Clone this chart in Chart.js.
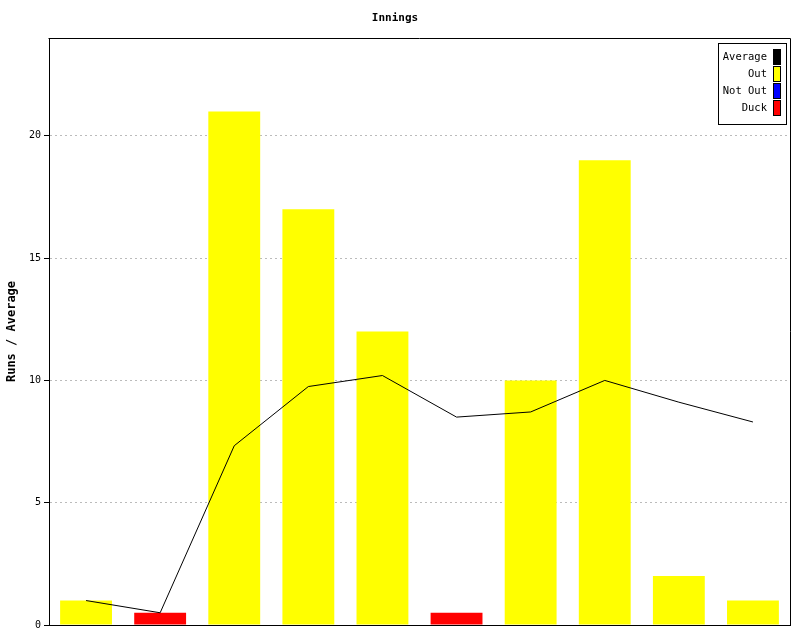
<!DOCTYPE html>
<html>
<head>
<meta charset="utf-8">
<script src="https://cdn.jsdelivr.net/npm/chart.js@4/dist/chart.umd.min.js"></script>
<style>
html,body{margin:0;padding:0;background:#fff;}
#wrap{width:800px;height:640px;}
</style>
</head>
<body>
<div id="wrap"><canvas id="c" width="800" height="640"></canvas></div>
<script>
const categories = ['1','2','3','4','5','6','7','8','9','10'];
const outRuns = [1, null, 21, 17, 12, null, 10, 19, 2, 1];
const notOutRuns = [null, null, null, null, null, null, null, null, null, null];
const duckRuns = [null, 0.5, null, null, null, 0.5, null, null, null, null];
const average = [1, 0.5, 7.33, 9.75, 10.2, 8.5, 8.71, 10, 9.11, 8.3];
const yTicks = [0, 5, 10, 15, 20];

const FONT = "'DejaVu Sans Mono', 'Liberation Mono', monospace";

const framePlugin = {
  id: 'frame',
  afterDraw(chart) {
    const {ctx, chartArea: a} = chart;
    ctx.save();
    ctx.strokeStyle = '#000';
    ctx.lineWidth = 1;
    ctx.setLineDash([]);
    ctx.beginPath();
    ctx.moveTo(Math.round(a.left) - 0.5, Math.round(a.top) + 0.5);
    ctx.lineTo(Math.round(a.right) + 0.5, Math.round(a.top) + 0.5);
    ctx.lineTo(Math.round(a.right) + 0.5, Math.round(a.bottom));
    ctx.stroke();
    // legend
    const items = chart.data.datasets.map(d => ({label: d.label, color: d.legendColor}));
    const bx = 718.5, by = 43.5, bw = 68, bh = 81;
    ctx.fillStyle = '#fff';
    ctx.fillRect(bx, by, bw, bh);
    ctx.strokeRect(bx, by, bw, bh);
    ctx.font = "10.5px " + FONT;
    ctx.textAlign = 'right';
    ctx.textBaseline = 'middle';
    items.forEach((it, i) => {
      const cy = 57 + i * 17;
      ctx.fillStyle = '#000';
      ctx.fillText(it.label, 767, cy);
      ctx.fillStyle = it.color;
      ctx.fillRect(773.5, cy - 7.5, 7, 15);
      ctx.strokeStyle = '#000';
      ctx.strokeRect(773.5, cy - 7.5, 7, 15);
    });
    ctx.restore();
  }
};

new Chart(document.getElementById('c'), {
  data: {
    labels: categories,
    datasets: [
      {type: 'line', label: 'Average', data: average, borderColor: '#000', backgroundColor: '#000', legendColor: '#000',
       borderWidth: 1, pointRadius: 0, tension: 0, order: 0, fill: false},
      {type: 'bar', label: 'Out', data: outRuns, backgroundColor: '#ffff00', legendColor: '#ffff00', order: 1, grouped: false},
      {type: 'bar', label: 'Not Out', data: notOutRuns, backgroundColor: '#0000ff', legendColor: '#0000ff', order: 1, grouped: false},
      {type: 'bar', label: 'Duck', data: duckRuns, backgroundColor: '#ff0000', legendColor: '#ff0000', order: 1, grouped: false}
    ]
  },
  options: {
    responsive: false,
    animation: false,
    events: [],
    layout: {padding: {left: 0, right: 10, top: 0, bottom: 0}},
    datasets: {bar: {barPercentage: 0.7, categoryPercentage: 1.0}},
    plugins: {
      legend: {display: false},
      tooltip: {enabled: false},
      title: {display: true, text: 'Innings', color: '#000',
        font: {family: FONT, size: 11, weight: 'bold', lineHeight: 1.2},
        padding: {top: 12, bottom: 12.8}}
    },
    scales: {
      x: {
        type: 'category',
        offset: true,
        grid: {display: false, drawTicks: false},
        border: {display: true, color: '#000', width: 1},
        ticks: {display: false},
        afterFit(s) { s.height = 15; }
      },
      y: {
        type: 'linear',
        min: 0, max: 24,
        afterBuildTicks(s) { s.ticks = yTicks.map(v => ({value: v})); },
        ticks: {stepSize: 5, includeBounds: false, color: '#000', padding: 3,
          font: {family: FONT, size: 10}},
        grid: {color: '#bbbbbb', lineWidth: 1, tickColor: '#000', tickLength: 5,
          tickBorderDash: []},
        border: {display: true, color: '#000', width: 1, dash: [2, 3]},
        title: {display: true, text: 'Runs / Average', color: '#000',
          font: {family: FONT, size: 12, weight: 'bold', lineHeight: 1.2},
          padding: {top: 5, bottom: 0}},
        afterFit(s) { s.width = 49; }
      }
    }
  },
  plugins: [framePlugin]
});
</script>
</body>
</html>
